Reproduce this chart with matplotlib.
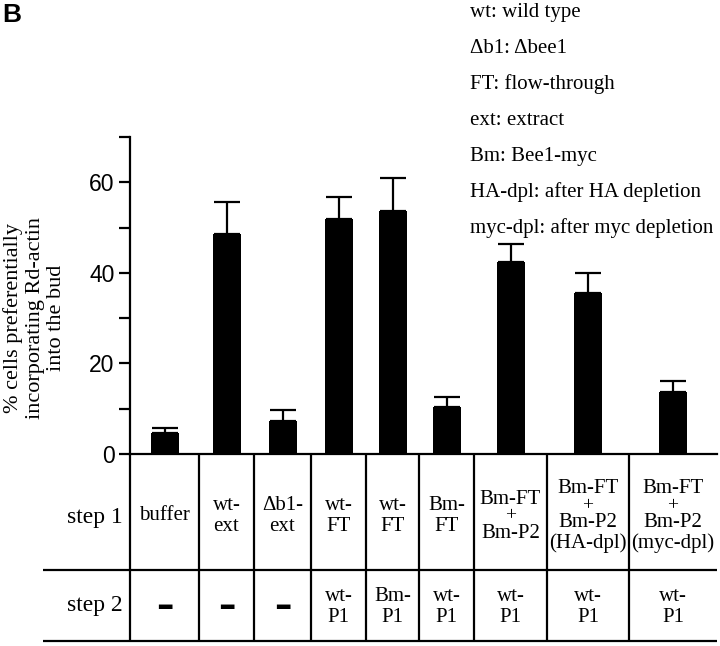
import matplotlib
matplotlib.use("Agg")
import matplotlib.pyplot as plt
import numpy as np

# ---------------- data ----------------
step1_labels = ["buffer", "wt-\next", "Δb1-\next", "wt-\nFT", "wt-\nFT", "Bm-\nFT",
                "Bm-FT\n+\nBm-P2", "Bm-FT\n+\nBm-P2\n(HA-dpl)", "Bm-FT\n+\nBm-P2\n(myc-dpl)"]
step2_labels = ["–", "–", "–", "wt-\nP1", "Bm-\nP1", "wt-\nP1", "wt-\nP1", "wt-\nP1", "wt-\nP1"]
values = [4.6, 48.6, 7.3, 51.8, 53.6, 10.4, 42.4, 35.6, 13.6]
errors = [1.2, 7.1, 2.5, 4.9, 7.3, 2.1, 4.0, 4.3, 2.6]
yticks = [0, 10, 20, 30, 40, 50, 60, 70]
ytick_labels = ["0", "", "20", "", "40", "", "60", ""]
legend_lines = ["wt: wild type", "Δb1: Δbee1", "FT: flow-through", "ext: extract",
                "Bm: Bee1-myc", "HA-dpl: after HA depletion", "myc-dpl: after myc depletion"]
ylabel = "% cells preferentially\nincorporating Rd-actin\ninto the bud"

# ---------------- layout (pixels) ----------------
W, H = 720, 646
AX_L, AX_R = 130, 717
Y0, Y70 = 454, 137
col_edges = [0, 69, 124, 181, 236, 289, 344, 417, 499, 587]  # relative to AX_L
ROW1_BOT, ROW2_BOT = 570, 641
LW = 1.6
SERIF = "Liberation Serif"
SANS = "Liberation Sans"

fig = plt.figure(figsize=(W / 100, H / 100), dpi=100)

# main bar axes
ax = fig.add_axes([AX_L / W, (H - Y0) / H, (AX_R - AX_L) / W, (Y0 - Y70) / H])
ax.set_xlim(0, AX_R - AX_L)
ax.set_ylim(0, 70)
centers = [(col_edges[i] + col_edges[i + 1]) / 2 for i in range(len(values))]
ax.bar(centers, values, width=28, color="black", zorder=2)
ax.errorbar(centers, values, yerr=[np.zeros(len(values)), errors], fmt="none",
            ecolor="black", elinewidth=LW, capsize=9.7, capthick=LW, zorder=3)
for s in ["top", "right"]:
    ax.spines[s].set_visible(False)
for s in ["left", "bottom"]:
    ax.spines[s].set_linewidth(LW)
ax.set_yticks(yticks)
ax.set_yticklabels(ytick_labels, fontfamily=SANS, fontsize=16.5)
ax.tick_params(axis="y", direction="out", length=8, width=LW, pad=3)
ax.set_xticks([])
ax.patch.set_visible(False)

# overlay axes in pixel coordinates
ov = fig.add_axes([0, 0, 1, 1])
ov.set_xlim(0, W)
ov.set_ylim(H, 0)
ov.axis("off")
ov.patch.set_visible(False)

# table lines
for e in col_edges[:-1]:
    ov.plot([AX_L + e, AX_L + e], [Y0, ROW2_BOT], color="black", lw=LW, solid_capstyle="butt")
for yy in [ROW1_BOT, ROW2_BOT]:
    ov.plot([43, AX_R], [yy, yy], color="black", lw=LW, solid_capstyle="butt")


def draw_cell(x, yc, text, size, normal_gap=21, plus_gap=17):
    lines = text.split("\n")
    offs = [0.0]
    for i in range(1, len(lines)):
        g = plus_gap if (lines[i] == "+" or lines[i - 1] == "+") else normal_gap
        offs.append(offs[-1] + g)
    mid = offs[-1] / 2
    for ln, o in zip(lines, offs):
        if ln == "–":
            ov.text(x, yc - mid + o, ln, ha="center", va="center",
                    fontfamily="DejaVu Sans", fontweight="bold", fontsize=25)
        elif ln == "+":
            ov.text(x, yc - mid + o, ln, ha="center", va="center",
                    fontfamily=SERIF, fontsize=size - 1)
        else:
            ov.text(x, yc - mid + o, ln, ha="center", va="center",
                    fontfamily=SERIF, fontsize=size)


for i in range(len(values)):
    cx = AX_L + centers[i]
    draw_cell(cx, 516, step1_labels[i], 15)
    draw_cell(cx, 607, step2_labels[i], 15)

ov.text(123, 517, "step 1", ha="right", va="center", fontfamily=SERIF, fontsize=17)
ov.text(123, 605, "step 2", ha="right", va="center", fontfamily=SERIF, fontsize=17)

# y label
ov.text(35, 318, ylabel, rotation=90, ha="center", va="center", multialignment="center",
        fontfamily=SERIF, fontsize=16, linespacing=1.18)

# legend text
for i, t in enumerate(legend_lines):
    ov.text(470, 17 + 36 * i, t, ha="left", va="baseline", fontfamily=SERIF, fontsize=15)

# panel letter
ov.text(2, 22, "B", ha="left", va="baseline", fontfamily=SANS, fontweight="bold", fontsize=19)

fig.savefig("out.png", dpi=100)
